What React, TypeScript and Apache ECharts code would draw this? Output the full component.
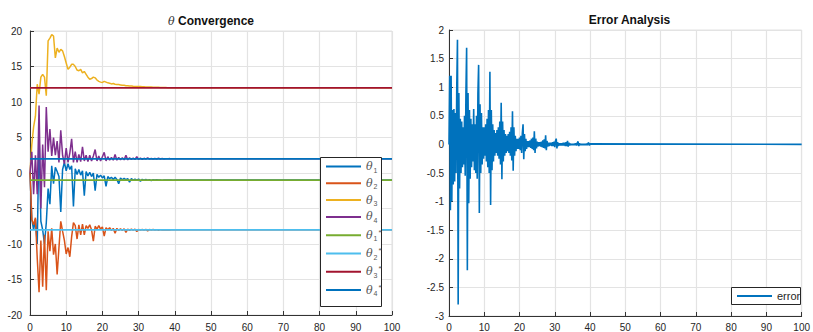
import React, { useEffect, useRef } from "react";
import * as echarts from "echarts";

// ---- Data ----
const thetaStep = 0.5; // sampling step of the θ traces, from t = 0 to t = 40
const thetaEnd = 100;

const theta1 = [
  0, -6.5, -8, -6.5, -10, 5.5, -6.8, -8, -10, -7,
  -2.2, -4.4, 1.0, -1.5, 0.8, 0.2, -0.5, -5.5, 0.5, 1.5,
  0.3, 1.3, 0.5, 1.0, -4.7, 0.6, -0.2, 0.5, -0.3, 0.3,
  -3.2, 0.2, -0.4, 0.1, -0.5, 0, -2.5, -0.2, -0.6, -0.3,
  -0.7, -0.4, -1.9, -0.5, -0.8, -0.6, -0.9, -0.6, -0.9, -1.5,
  -0.7, -0.95, -0.75, -0.95, -0.8, -1.3, -0.8, -1.0, -0.85, -1.0,
  -0.85, -1.15, -0.9, -1.0, -0.92, -1.0, -0.93, -1.08, -0.95, -1.0,
  -0.96, -1.0, -0.97, -1.04, -0.98, -1.0, -0.99, -1.0, -0.99, -1.01,
  -1.0,
];
const theta2 = [
  0, -6.5, -7.3, -6.3, -12, -16.8, -9.5, -16, -8.7, -16.5,
  -8.2, -11, -7.8, -11.5, -10, -14.3, -10.5, -6.8, -8.2, -9.5,
  -11.4, -10.5, -11.8, -9, -7, -7.4, -9.3, -7.3, -8.7, -7.2,
  -8.7, -7.4, -7.8, -7.3, -8.0, -9.6, -7.5, -7.9, -7.4, -7.9,
  -7.6, -8.9, -7.7, -8.0, -7.7, -8.1, -7.8, -8.5, -7.8, -8.1,
  -7.85, -8.1, -7.85, -8.35, -7.9, -8.1, -7.9, -8.05, -7.9, -8.25,
  -7.95, -8.05, -7.95, -8.05, -7.95, -8.15, -7.97, -8.03, -7.97, -8.03,
  -7.98, -8.08, -7.98, -8.02, -7.99, -8.02, -7.99, -8.04, -8, -8.01,
  -8,
];
const theta3 = [
  0, 4, 6.5, 8, 12.5, 11.1, 13.5, 13.9, 13.5, 10.9,
  18.6, 19.0, 19.5, 19.3, 16.2, 17.6, 17.0, 17.4, 17.2, 16.4,
  15.5, 14.6, 14.9, 15.3, 15.3, 15.0, 14.5, 14.4, 14.6, 14.1,
  14.3, 13.9, 13.5, 13.2, 13.3, 13.5, 13.4, 13.1, 12.9, 12.8,
  12.75, 12.9, 12.8, 12.7, 12.65, 12.55, 12.6, 12.5, 12.45, 12.45,
  12.4, 12.35, 12.35, 12.3, 12.3, 12.25, 12.25, 12.22, 12.2, 12.2,
  12.18, 12.17, 12.15, 12.14, 12.13, 12.12, 12.11, 12.1, 12.09, 12.08,
  12.07, 12.06, 12.05, 12.04, 12.03, 12.03, 12.02, 12.02, 12.01, 12.01,
  12,
];
const theta4 = [
  0, 3, -3, 2.5, -3, 9.5, -5, 4, -2, 9.3,
  3, 6.2, 2.4, 5, 2.5, 4.5, 1.5, 6.0, 2.5, 1.3,
  3.5, 1.5, 2.8, 4.8, 1.5, 3.0, 1.5, 2.6, 1.6, 3.7,
  1.7, 2.5, 1.6, 2.5, 1.7, 2.4, 3.3, 1.7, 2.4, 1.7,
  2.3, 2.9, 1.7, 2.3, 1.8, 2.2, 1.8, 2.6, 1.8, 2.2,
  1.85, 2.15, 1.85, 2.5, 1.85, 2.15, 1.9, 2.1, 1.9, 2.3,
  1.9, 2.1, 1.93, 2.07, 1.95, 2.15, 1.95, 2.05, 1.96, 2.04,
  1.97, 2.08, 1.98, 2.03, 1.98, 2.02, 1.99, 2.03, 1.99, 2.01,
  2,
];
const thetaStar = [-1, -8, 12, 2]; // θ1*, θ2*, θ3*, θ4*

const errStep = 0.2; // sampling step of the error trace, from t = 0 to t = 40
const errorVals = [
  0, 1.2, -1.15, 1.2, -1.0,
  0.6, -0.7, 0.62, -0.65, 0.55,
  -0.5, 1.0, 1.83, -2.8, 0.9,
  -0.77, 0.45, -0.5, 0.4, -0.4,
  0.3, -0.35, 0.5, -0.55, 0.9,
  1.69, -2.2, 0.9, -1.03, 0.6,
  -0.6, 0.45, -0.4, 0.35, -0.3,
  0.62, -0.45, 0.35, -0.5, 0.5,
  -0.6, 0.9, 1.39, -1.2, 0.7,
  -0.5, 0.55, -0.35, 0.3, -0.25,
  0.3, -0.2, 0.35, -0.3, 0.45,
  -0.4, 0.6, -0.5, 1.27, -1.06,
  0.6, -0.45, 0.35, -0.3, 0.25,
  -0.2, 0.2, -0.15, 0.25, -0.2,
  0.3, -0.25, 0.4, -0.35, 0.73,
  -0.61, 0.4, -0.3, 0.25, -0.2,
  0.18, -0.15, 0.15, -0.12, 0.18,
  -0.15, 0.22, -0.2, 0.3, -0.28,
  0.58, -0.46, 0.3, -0.2, 0.15,
  -0.12, 0.1, -0.08, 0.1, -0.08,
  0.12, -0.1, 0.15, -0.15, 0.2,
  0.35, -0.26, 0.18, -0.12, 0.1,
  -0.08, 0.06, -0.05, 0.06, -0.05,
  0.07, -0.06, 0.1, -0.08, 0.12,
  -0.1, 0.23, -0.15, 0.1, -0.07,
  0.05, -0.04, 0.04, -0.03, 0.04,
  -0.04, 0.05, -0.05, 0.07, -0.06,
  0.09, -0.07, 0.16, -0.1, 0.06,
  -0.04, 0.03, -0.03, 0.03, -0.02,
  0.03, -0.03, 0.04, -0.03, 0.05,
  -0.05, 0.06, 0.1, -0.07, 0.04,
  -0.03, 0.02, -0.02, 0.02, -0.02,
  0.02, -0.02, 0.03, -0.02, 0.03,
  -0.03, 0.04, -0.03, 0.06, -0.04,
  0.03, -0.02, 0.015, -0.015, 0.01,
  -0.01, 0.01, -0.01, 0.015, -0.015,
  0.02, -0.02, 0.03, 0.05, -0.03,
  0.02, -0.015, 0.01, -0.01, 0.01,
  -0.01, 0.01, -0.01, 0.01, -0.01,
  0.015, -0.015, 0.02, 0.03, -0.02,
  0.01,
];
const errTail = 0;

const thetaNames = ["θ1", "θ2", "θ3", "θ4", "θ1*", "θ2*", "θ3*", "θ4*"];
const colors = ["#0072BD", "#D95319", "#EDB120", "#7E2F8E", "#77AC30", "#4DBEEE", "#A2142F", "#0072BD"];

const FONT = "Liberation Sans, Arial, sans-serif";
const TXT = "#262626";

function trace(values: number[], step: number, endT: number, endV: number) {
  const pts: number[][] = values.map((v, i) => [i * step, v]);
  pts.push([endT, endV]);
  return pts;
}

export default function App() {
  const ref = useRef<HTMLDivElement>(null);
  useEffect(() => {
    if (!ref.current) return;
    const chart = echarts.init(ref.current, null, { renderer: "svg" });
    const thetaSeries = [theta1, theta2, theta3, theta4];

    const axisCommon = {
      axisLine: { show: true, onZero: false, lineStyle: { color: "#333", width: 1 } },
      axisTick: { show: true, inside: true, length: 4, lineStyle: { color: "#333" } },
      splitLine: { show: true, lineStyle: { color: "#e3e3e3", width: 1.2 } },
      axisLabel: { color: TXT, fontSize: 10, fontFamily: FONT },
    };

    const series: any[] = [];
    thetaSeries.forEach((vals, i) => {
      series.push({
        name: thetaNames[i],
        type: "line",
        xAxisIndex: 0,
        yAxisIndex: 0,
        data: trace(vals, thetaStep, thetaEnd, thetaStar[i]),
        showSymbol: false,
        symbol: "none",
        lineStyle: { color: colors[i], width: 1.5 },
        itemStyle: { color: colors[i] },
      });
    });
    thetaStar.forEach((v, i) => {
      series.push({
        name: thetaNames[4 + i],
        type: "line",
        xAxisIndex: 0,
        yAxisIndex: 0,
        data: [[0, v], [thetaEnd, v]],
        showSymbol: false,
        symbol: "none",
        lineStyle: { color: colors[4 + i], width: 1.8 },
        itemStyle: { color: colors[4 + i] },
      });
    });
    series.push({
      name: "error",
      type: "line",
      xAxisIndex: 1,
      yAxisIndex: 1,
      data: trace(errorVals, errStep, 100, errTail),
      showSymbol: false,
      symbol: "none",
      lineStyle: { color: "#0072BD", width: 1.6 },
      itemStyle: { color: "#0072BD" },
    });

    const legendRich = {
      t: { fontFamily: "DejaVu Serif, serif", fontStyle: "italic", fontSize: 11, color: "#555", lineHeight: 14, verticalAlign: "middle" },
      s: { fontFamily: FONT, fontSize: 7, color: "#555", lineHeight: 7, verticalAlign: "bottom", padding: [0, 0, 0, 1] },
      p: { fontFamily: FONT, fontSize: 8, color: "#555", lineHeight: 8, verticalAlign: "top", padding: [0, 0, 0, 1] },
    };

    chart.setOption({
      animation: false,
      backgroundColor: "#fff",
      grid: [
        { left: 30, right: 421, top: 31, bottom: 14, show: true, borderColor: "#e3e3e3", borderWidth: 1 },
        { left: 449, right: 3, top: 30, bottom: 16, show: true, borderColor: "#e3e3e3", borderWidth: 1 },
      ],
      xAxis: [
        { ...axisCommon, type: "value", gridIndex: 0, min: 0, max: 100, interval: 10, axisLabel: { ...axisCommon.axisLabel, margin: 7 } },
        { ...axisCommon, type: "value", gridIndex: 1, min: 0, max: 100, interval: 10, axisLabel: { ...axisCommon.axisLabel, margin: 6 } },
      ],
      yAxis: [
        { ...axisCommon, type: "value", gridIndex: 0, min: -20, max: 20, interval: 5, axisLabel: { ...axisCommon.axisLabel, margin: 8 } },
        { ...axisCommon, type: "value", gridIndex: 1, min: -3, max: 2, interval: 0.5, axisLabel: { ...axisCommon.axisLabel, margin: 5 } },
      ],
      legend: [
        {
          data: thetaNames,
          orient: "vertical",
          left: 326,
          top: 161,
          padding: 0,
          itemGap: 4.3,
          itemWidth: 35,
          itemHeight: 2,
          icon: "rect",
          z: 6,
          selectedMode: false,
          formatter: (name: string) => {
            const idx = name.replace("θ", "").replace("*", "");
            return `{t|θ}{s|${idx}}` + (name.includes("*") ? "{p|*}" : "");
          },
          textStyle: { rich: legendRich, color: "#555" },
        },
        {
          data: ["error"],
          orient: "horizontal",
          left: 737,
          top: 289,
          padding: 0,
          itemWidth: 35,
          itemHeight: 2,
          icon: "rect",
          z: 6,
          selectedMode: false,
          textStyle: { fontFamily: FONT, fontSize: 11, color: TXT, lineHeight: 14 },
        },
      ],
      graphic: [
        { type: "rect", z: 5, shape: { x: 320.5, y: 157.5, width: 61, height: 149 }, style: { fill: "#fff", stroke: "#262626", lineWidth: 1 } },
        { type: "rect", z: 5, shape: { x: 731.5, y: 287.5, width: 69, height: 17 }, style: { fill: "#fff", stroke: "#262626", lineWidth: 1 } },
        {
          type: "text",
          z: 5,
          x: 211,
          y: 21,
          style: {
            text: "{i|θ} {b|Convergence}",
            align: "center",
            verticalAlign: "middle",
            rich: {
              i: { fontFamily: "DejaVu Serif, serif", fontStyle: "italic", fontSize: 11, fill: "#333" },
              b: { fontFamily: FONT, fontWeight: "bold", fontSize: 12, fill: "#111" },
            },
          },
        },
        {
          type: "text",
          z: 5,
          x: 629.5,
          y: 20,
          style: {
            text: "Error Analysis",
            align: "center",
            verticalAlign: "middle",
            fontFamily: FONT,
            fontWeight: "bold",
            fontSize: 12,
            fill: "#111",
          },
        },
      ],
      series,
    });
    return () => chart.dispose();
  }, []);

  return (
    <div
      ref={ref}
      style={{ position: "fixed", left: 0, top: 0, width: 813, height: 332, background: "#fff" }}
    />
  );
}
